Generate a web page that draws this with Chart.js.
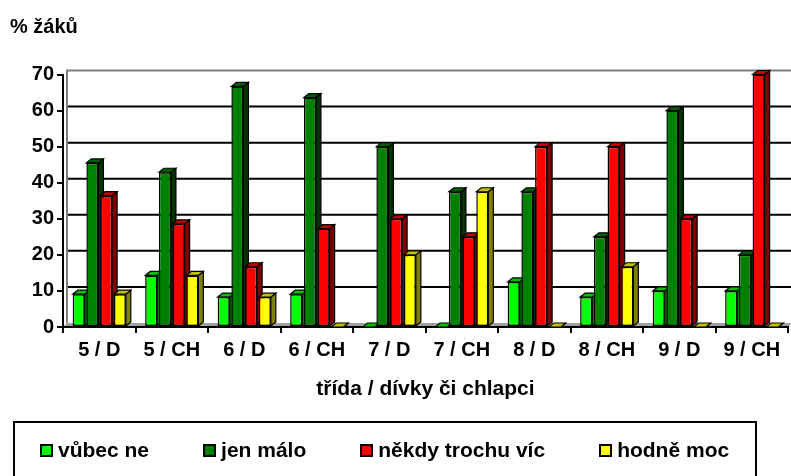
<!DOCTYPE html>
<html lang="cs">
<head>
<meta charset="utf-8">
<title>% žáků</title>
<script src="https://cdn.jsdelivr.net/npm/chart.js@4.4.1/dist/chart.umd.min.js"></script>
<style>
  html, body { margin: 0; padding: 0; background: #fff; }
  #wrap { position: relative; width: 791px; height: 476px; overflow: hidden; }
  #legend {
    position: absolute; left: 13px; top: 421px; width: 744px; height: 80px;
    border: 2px solid #000; box-sizing: border-box;
    padding: 15px 0 0 25px; display: flex; align-items: flex-start; gap: 54px;
    font: bold 21px "Liberation Sans", Arial, sans-serif; line-height: 24px; color: #000;
  }
  .item { display: flex; align-items: center; height: 24px; white-space: nowrap; }
  .sw { width: 13px; height: 13px; border: 2px solid #000; box-sizing: border-box; margin-right: 5px; }
</style>
</head>
<body>
<div id="wrap">
  <canvas id="graf" width="791" height="476"></canvas>
  <div id="legend"></div>
</div>
<script>
// Data
const categories = ['5 / D', '5 / CH', '6 / D', '6 / CH', '7 / D', '7 / CH', '8 / D', '8 / CH', '9 / D', '9 / CH'];
const seriesNames = ['vůbec ne', 'jen málo', 'někdy trochu víc', 'hodně moc'];
const vubecNe  = [9.1, 14.3, 8.3, 9.1, 0, 0, 12.5, 8.3, 10, 10];
const jenMalo  = [45.5, 42.9, 66.7, 63.6, 50, 37.5, 37.5, 25, 60, 20];
const nekdyVic = [36.4, 28.6, 16.7, 27.3, 30, 25, 50, 50, 30, 70];
const hodneMoc = [9.1, 14.3, 8.3, 0, 20, 37.5, 0, 16.7, 0, 0];
const yTicks = [0, 10, 20, 30, 40, 50, 60, 70];

// barvy: čelo, vršek, bok
const frontColors = ['#00ff00', '#008000', '#ff0000', '#ffff00'];
const topColors   = ['#00c000', '#006000', '#c00000', '#c0c000'];
const sideColors  = ['#008000', '#003300', '#800000', '#808000'];

const FONT = '"Liberation Sans", Arial, sans-serif';
const DX = 5, DY = 4;   // hloubka sloupců
const WX = 4, WY = 4;   // hloubka stěny

function face(ctx, pts, fill) {
    ctx.beginPath();
    ctx.moveTo(pts[0][0], pts[0][1]);
    for (let k = 1; k < pts.length; k++) ctx.lineTo(pts[k][0], pts[k][1]);
    ctx.closePath();
    ctx.fillStyle = fill;
    ctx.fill();
    ctx.stroke();
}

// 3D stěna, podlaha a hloubka sloupců
const plot3d = {
    id: 'plot3d',
    beforeDraw(chart) {
        const { ctx, chartArea: a, scales: { y } } = chart;
        ctx.save();
        ctx.fillStyle = '#a0a0a0';
        ctx.beginPath();
        ctx.moveTo(a.left, a.bottom);
        ctx.lineTo(a.left + WX, a.bottom - WY);
        ctx.lineTo(a.right + WX, a.bottom - WY);
        ctx.lineTo(a.right, a.bottom);
        ctx.closePath();
        ctx.fill();

        ctx.lineWidth = 2;
        ctx.strokeStyle = '#000';
        yTicks.slice(1, -1).forEach(v => {
            const py = y.getPixelForValue(v) - WY;
            ctx.beginPath();
            ctx.moveTo(a.left + WX, py);
            ctx.lineTo(a.right + WX, py);
            ctx.stroke();
        });
        ctx.strokeStyle = '#808080';
        ctx.beginPath();
        ctx.moveTo(a.left + WX, a.bottom - WY);
        ctx.lineTo(a.left + WX, a.top - WY);
        ctx.lineTo(a.right + WX, a.top - WY);
        ctx.stroke();
        ctx.restore();
    },
    beforeDatasetsDraw(chart) {
        const ctx = chart.ctx;
        ctx.save();
        ctx.lineWidth = 1.2;
        ctx.strokeStyle = '#000';
        chart.data.datasets.forEach((ds, i) => {
            chart.getDatasetMeta(i).data.forEach(bar => {
                const { x, y, base, width } = bar.getProps(['x', 'y', 'base', 'width'], true);
                const l = x - width / 2, r = x + width / 2;
                face(ctx, [[r, y], [r + DX, y - DY], [r + DX, base - DY], [r, base]], sideColors[i]);
                face(ctx, [[l, y], [l + DX, y - DY], [r + DX, y - DY], [r, y]], topColors[i]);
            });
        });
        ctx.restore();
    }
};

const values = [vubecNe, jenMalo, nekdyVic, hodneMoc];

new Chart(document.getElementById('graf'), {
    type: 'bar',
    data: {
        labels: categories,
        datasets: values.map((v, i) => ({
            label: seriesNames[i],
            data: v,
            backgroundColor: frontColors[i],
            borderColor: '#000',
            borderWidth: 1.5,
            borderSkipped: false,
            barPercentage: 0.88,
            categoryPercentage: 0.756,
            clip: false
        }))
    },
    options: {
        responsive: false,
        animation: false,
        devicePixelRatio: 1,
        layout: { padding: { left: 10, right: 3, top: 0, bottom: 0 } },
        plugins: {
            legend: { display: false },
            tooltip: { enabled: false },
            title: {
                display: true,
                text: '% žáků',
                align: 'start',
                color: '#000',
                font: { family: FONT, size: 20, weight: 'bold' },
                padding: { top: 15, bottom: 35.5 }
            }
        },
        scales: {
            x: {
                grid: { display: true, drawOnChartArea: false, color: '#000', lineWidth: 2, tickLength: 6 },
                border: { display: true, color: '#000', width: 2 },
                ticks: { color: '#000', font: { family: FONT, size: 20, weight: 'bold' }, padding: 5, autoSkip: false, maxRotation: 0 },
                title: {
                    display: true,
                    text: 'třída / dívky či chlapci',
                    color: '#000',
                    font: { family: FONT, size: 21, weight: 'bold' },
                    padding: { top: 0, bottom: 74 }
                },
                afterFit: s => { s.height = 149; }
            },
            y: {
                min: yTicks[0],
                max: yTicks[yTicks.length - 1],
                grid: { display: true, drawOnChartArea: false, color: '#000', lineWidth: 2, tickLength: 6 },
                border: { display: true, color: '#000', width: 2 },
                ticks: { stepSize: yTicks[1] - yTicks[0], color: '#000', font: { family: FONT, size: 20, weight: 'bold' }, padding: 3 },
                afterFit: s => { s.width = 53; }
            }
        }
    },
    plugins: [plot3d]
});

// Legenda
const legend = document.getElementById('legend');
seriesNames.forEach((name, i) => {
    const item = document.createElement('div');
    item.className = 'item';
    item.innerHTML = `<span class="sw" style="background:${frontColors[i]}"></span><span>${name}</span>`;
    legend.appendChild(item);
});
</script>
</body>
</html>
